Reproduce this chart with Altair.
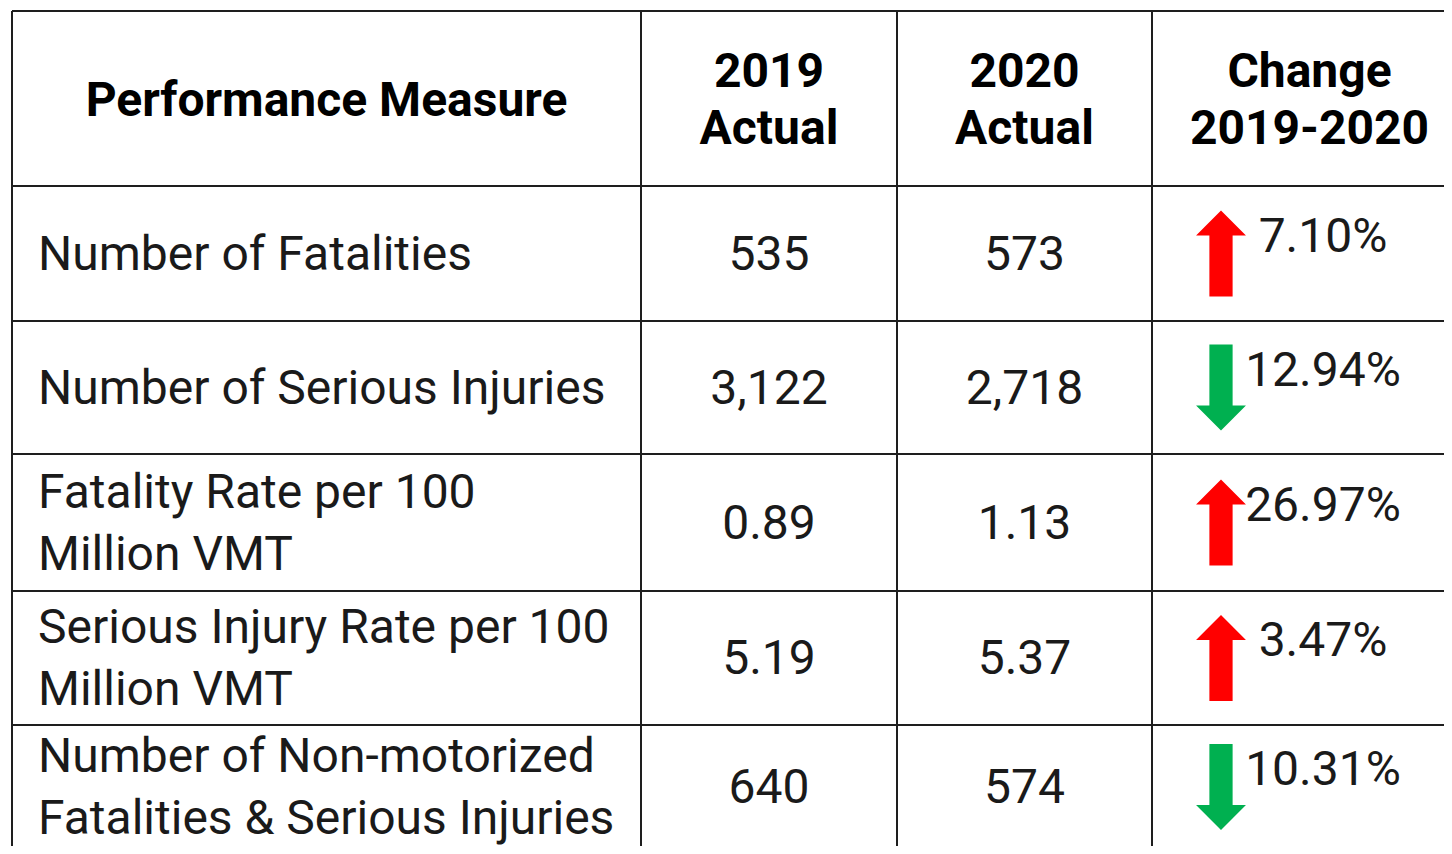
import altair as alt
import pandas as pd

# ---------------- data ----------------
headers = ["Performance Measure", "2019\nActual", "2020\nActual", "Change\n2019-2020"]
measures = [
    "Number of Fatalities",
    "Number of Serious Injuries",
    "Fatality Rate per 100\nMillion VMT",
    "Serious Injury Rate per 100\nMillion VMT",
    "Number of Non-motorized\nFatalities & Serious Injuries",
]
actual_2019 = [535, 3122, 0.89, 5.19, 640]
actual_2020 = [573, 2718, 1.13, 5.37, 574]
change_pct = [7.10, -12.94, 26.97, 3.47, -10.31]

# ---------------- layout (pixels) ----------------
W, H = 1436, 838          # drawing area
X0, Y0 = 8, 8             # page margin offset
col_left, row_top = 12, 11
col_widths = [629, 256, 255, 315]
row_heights = [175, 135, 133, 137, 134, 124]
FONT = "Roboto"
FS = 48
HEADER_LH = 57
BODY_LH = 62
ARROW_X_OFF = 69          # arrow centre from left edge of change column
PCT_X_OFF = 171           # percent text centre from left edge of change column


def fmt(v):
    return f"{v:,}" if float(v).is_integer() else f"{v:.2f}"


col_edges = [col_left]
for w in col_widths:
    col_edges.append(col_edges[-1] + w)
row_edges = [row_top]
for h in row_heights:
    row_edges.append(row_edges[-1] + h)
col_centers = [(a + b) / 2 for a, b in zip(col_edges[:-1], col_edges[1:])]
row_centers = [(a + b) / 2 for a, b in zip(row_edges[:-1], row_edges[1:])]
body_centers = row_centers[1:]

XMAX, YMAX = X0 + W, Y0 + H


def split_lines(labels, xs_, ys_, lh):
    out = []
    for lab, x, y in zip(labels, xs_, ys_):
        parts = lab.split("\n")
        n = len(parts)
        for i, p in enumerate(parts):
            out.append(dict(x=x, y=y + (i - (n - 1) / 2) * lh, label=p))
    return pd.DataFrame(out)


# grid lines (the table continues past the window's right and bottom edges)
lines = []
for y in row_edges[:-1]:
    if y <= YMAX:
        lines.append(dict(x=col_edges[0], x2=min(col_edges[-1], XMAX), y=y, y2=y))
for x in col_edges:
    if x <= XMAX:
        lines.append(dict(x=x, x2=x, y=row_edges[0], y2=YMAX))
lines_df = pd.DataFrame(lines)

header_df = split_lines(headers, col_centers, [row_centers[0]] * 4, HEADER_LH)
measure_df = split_lines(measures, [col_edges[0] + 26] * 5, body_centers, BODY_LH)
values_df = pd.DataFrame(
    dict(
        x=[col_centers[1]] * 5 + [col_centers[2]] * 5,
        y=body_centers + body_centers,
        label=[fmt(v) for v in actual_2019] + [fmt(v) for v in actual_2020],
    )
)
arrow_df = pd.DataFrame(
    dict(
        x=[col_edges[3] + ARROW_X_OFF] * 5,
        y=body_centers,
        dir=["up" if v > 0 else "down" for v in change_pct],
    )
)
pct_df = pd.DataFrame(
    dict(
        x=[col_edges[3] + PCT_X_OFF] * 5,
        y=body_centers,
        label=[f"{abs(v):.2f}%" for v in change_pct],
    )
)

xs = alt.Scale(domain=[X0, XMAX], nice=False, zero=False)
ys = alt.Scale(domain=[Y0, YMAX], nice=False, zero=False, reverse=True)


def X(f="x"):
    return alt.X(f"{f}:Q", scale=xs, axis=None)


def Y(f="y"):
    return alt.Y(f"{f}:Q", scale=ys, axis=None)


grid = alt.Chart(lines_df).mark_rule(color="#1e1e1e", strokeWidth=2).encode(
    x=X(), x2="x2:Q", y=Y(), y2="y2:Q"
)

header = alt.Chart(header_df).mark_text(
    font=FONT, fontSize=FS, fontWeight="bold", color="#000000",
    align="center", baseline="middle", dy=3,
).encode(x=X(), y=Y(), text="label:N")

measure = alt.Chart(measure_df).mark_text(
    font=FONT, fontSize=FS, color="#1a1a1a",
    align="left", baseline="middle", dy=2,
).encode(x=X(), y=Y(), text="label:N")

values = alt.Chart(values_df).mark_text(
    font=FONT, fontSize=FS, color="#1a1a1a",
    align="center", baseline="middle", dy=2,
).encode(x=X(), y=Y(), text="label:N")

UP = "M0,-1L0.58,-0.42L0.27,-0.42L0.27,1L-0.27,1L-0.27,-0.42L-0.58,-0.42Z"
DOWN = "M0,1L0.58,0.42L0.27,0.42L0.27,-1L-0.27,-1L-0.27,0.42L-0.58,0.42Z"

arrows = alt.Chart(arrow_df).mark_point(filled=True, opacity=1, strokeWidth=0).encode(
    x=X(),
    y=Y(),
    shape=alt.Shape("dir:N", scale=alt.Scale(domain=["up", "down"], range=[UP, DOWN]), legend=None),
    color=alt.Color("dir:N", scale=alt.Scale(domain=["up", "down"], range=["#ff0000", "#00b050"]), legend=None),
    size=alt.value(86 * 86),
)

pct = alt.Chart(pct_df).mark_text(
    font=FONT, fontSize=FS, color="#1a1a1a",
    align="center", baseline="alphabetic", dy=-2,
).encode(x=X(), y=Y(), text="label:N")

chart = (
    alt.layer(grid, header, measure, values, arrows, pct)
    .properties(width=W, height=H, padding=0, autosize=alt.AutoSizeParams(type="none"))
    .configure_view(strokeWidth=0)
)

chart.save("out.html", embed_options={"renderer": "svg", "actions": False})
